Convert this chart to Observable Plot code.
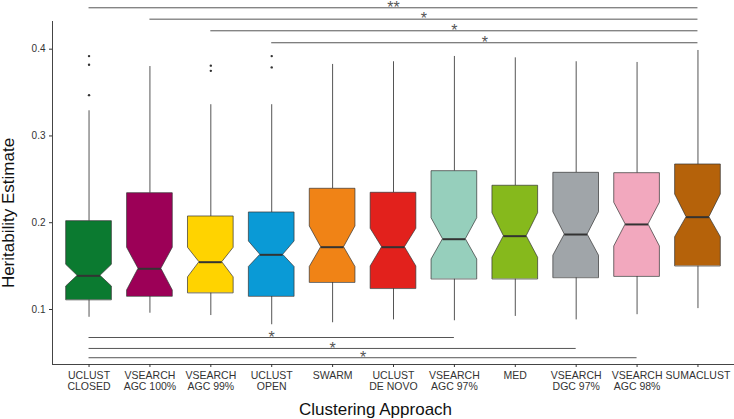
<!DOCTYPE html>
<html><head><meta charset="utf-8">
<script src="https://cdn.jsdelivr.net/npm/d3@7"></script>
<script src="https://cdn.jsdelivr.net/npm/@observablehq/plot@0.6"></script>
<style>body{margin:0;background:#fff;}</style>
</head><body><div id="chart"></div>
<script>
const categories = ["UCLUST\nCLOSED","VSEARCH\nAGC 100%","VSEARCH\nAGC 99%","UCLUST\nOPEN","SWARM","UCLUST\nDE NOVO","VSEARCH\nAGC 97%","MED","VSEARCH\nDGC 97%","VSEARCH\nAGC 98%","SUMACLUST"];
const fills = ["#0B7A30","#9C0057","#FFD300","#0A9AD6","#F08316","#E2211C","#96CFBC","#86B91C","#A0A5A9","#F2A8BE","#B5620A"];
const whiskerLow  = [0.091, 0.0957, 0.093, 0.0824, 0.0847, 0.088, 0.087, 0.092, 0.088, 0.094, 0.101];
const q1          = [0.111, 0.115, 0.119, 0.115, 0.131, 0.124, 0.135, 0.135, 0.1365, 0.138, 0.150];
const notchLow    = [0.1265, 0.122, 0.137, 0.149, 0.149, 0.1496, 0.1576, 0.1596, 0.162, 0.1726, 0.1833];
const median      = [0.1388, 0.1469, 0.1545, 0.163, 0.1718, 0.1718, 0.181, 0.1845, 0.1864, 0.198, 0.2064];
const notchHigh   = [0.1515, 0.1711, 0.1711, 0.1784, 0.1957, 0.193, 0.2052, 0.211, 0.2121, 0.223, 0.2325];
const q3          = [0.2018, 0.234, 0.2072, 0.2118, 0.2391, 0.2345, 0.2594, 0.2426, 0.2575, 0.2571, 0.2671];
const whiskerHigh = [0.329, 0.380, 0.336, 0.336, 0.3824, 0.3855, 0.3916, 0.390, 0.3855, 0.3847, 0.3985];
const outlierCategory = [1, 1, 1, 3, 3, 4, 4];
const outlierValue    = [0.392, 0.382, 0.347, 0.381, 0.375, 0.392, 0.379];
const sigFrom  = [1, 2, 3, 4, 1, 1, 1];
const sigTo    = [11, 11, 11, 11, 7, 9, 10];
const sigLevel = [0.4477, 0.4346, 0.4212, 0.4074, 0.0677, 0.0551, 0.0444];
const sigLabel = ["**", "*", "*", "*", "*", "*", "*"];
const yTicks = [0.1, 0.2, 0.3, 0.4];
const yDomain = [0.0366, 0.4319];

const boxW = 0.75;
const idx = categories.map((_, i) => i);
const boxPts = [];
idx.forEach(i => {
  const c = i + 1, h = boxW / 2, n = boxW / 4;
  const ys = [q1[i], notchLow[i], median[i], notchHigh[i], q3[i]];
  const hw = [h, h, n, h, h];
  ys.forEach((y, k) => boxPts.push({cat: i, y, x1: c - hw[k], x2: c + hw[k], fill: fills[i]}));
});
const sig = sigFrom.map((f, i) => ({f, t: sigTo[i], y: sigLevel[i], label: sigLabel[i]}));
const outliers = outlierCategory.map((c, i) => ({c, v: outlierValue[i]}));

const font = "Liberation Sans, Arial, Helvetica, sans-serif";
const chart = Plot.plot({
  width: 734, height: 419,
  marginLeft: 52, marginRight: 0, marginTop: 21, marginBottom: 55,
  style: {fontFamily: font, background: "#fff", overflow: "visible"},
  x: {domain: [0.4, 11.6], axis: null},
  y: {domain: yDomain, axis: null},
  color: {type: "identity"},
  marks: [
    Plot.ruleX(idx, {x: i => i + 1, y1: i => q3[i], y2: i => whiskerHigh[i], stroke: "#555", strokeWidth: 1}),
    Plot.ruleX(idx, {x: i => i + 1, y1: i => whiskerLow[i], y2: i => q1[i], stroke: "#555", strokeWidth: 1}),
    Plot.areaX(boxPts, {y: "y", x1: "x1", x2: "x2", z: "cat", fill: "fill", stroke: "#333", strokeWidth: 0.7, curve: "linear"}),
    Plot.ruleY(idx, {y: i => median[i], x1: i => i + 1 - boxW / 4, x2: i => i + 1 + boxW / 4, stroke: "#333", strokeWidth: 2}),
    Plot.dot(outliers, {x: "c", y: "v", r: 1.2, fill: "#333", stroke: null}),
    Plot.ruleY(sig, {y: "y", x1: "f", x2: "t", stroke: "#555", strokeWidth: 1}),
    Plot.text(sig, {x: d => (d.f + d.t) / 2, y: "y", text: "label", fontSize: 16, fill: "#555", lineAnchor: "middle", dy: 0}),
    Plot.ruleX([0.4], {stroke: "#444", strokeWidth: 1}),
    Plot.ruleY([yDomain[0]], {stroke: "#444", strokeWidth: 1}),
    Plot.axisY({ticks: yTicks, tickSize: 3, tickPadding: 4, fontSize: 10, color: "#333", tickFormat: d => d.toFixed(1), label: null}),
    Plot.axisX({ticks: idx.map(i => i + 1), tickFormat: d => categories[d - 1], tickSize: 3, tickPadding: 3.5, fontSize: 10.5, lineHeight: 1.05, color: "#333", label: null}),
    Plot.text(["Clustering Approach"], {frameAnchor: "bottom", dx: -18, dy: 45, fontSize: 17, fill: "#111", lineAnchor: "middle"}),
    Plot.text(["Heritability Estimate"], {frameAnchor: "left", textAnchor: "middle", dx: -44, dy: 20, rotate: -90, fontSize: 17, fill: "#111", lineAnchor: "middle"})
  ]
});
document.getElementById("chart").appendChild(chart);
</script>
</body></html>
